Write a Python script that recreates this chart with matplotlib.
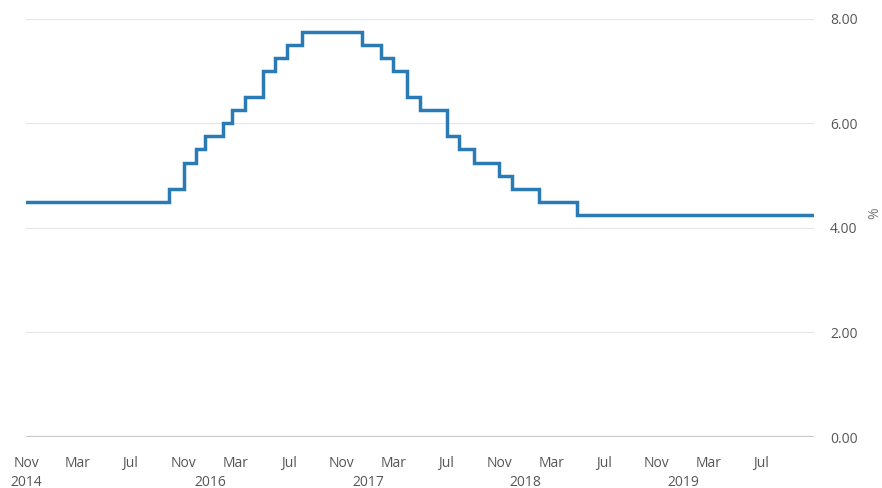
import matplotlib
matplotlib.use("Agg")
import matplotlib.pyplot as plt
import pandas as pd

# policy rate change dates and new rate (%)
change_dates = ["2014-11-01", "2015-09-28", "2015-11-02", "2015-11-30", "2015-12-21",
                "2016-02-01", "2016-02-22", "2016-03-22", "2016-05-02", "2016-05-31",
                "2016-06-27", "2016-08-01", "2016-12-19", "2017-01-30", "2017-02-27",
                "2017-04-01", "2017-05-01", "2017-07-03", "2017-07-31", "2017-09-04",
                "2017-10-31", "2017-11-30", "2018-02-01", "2018-05-01", "2019-10-31"]
rates = [4.50, 4.75, 5.25, 5.50, 5.75,
         6.00, 6.25, 6.50, 7.00, 7.25,
         7.50, 7.75, 7.50, 7.25, 7.00,
         6.50, 6.25, 5.75, 5.50, 5.25,
         5.00, 4.75, 4.50, 4.25, 4.25]

month_ticks = pd.date_range("2014-11-01", "2019-07-01", freq="4MS")
year_ticks = pd.to_datetime(["2014-11-01", "2016-01-01", "2017-01-01",
                             "2018-01-01", "2019-01-01"])
y_ticks = [0, 2, 4, 6, 8]

plt.rcParams["font.family"] = ["Open Sans", "DejaVu Sans"]

fig = plt.figure(figsize=(8.82, 4.88), dpi=100)
ax = fig.add_axes([0.0295, 0.1045, 0.8935, 0.857])

x = pd.to_datetime(change_dates)
ax.step(x, rates, where="post", color="#2a7ab6", lw=2.5, solid_joinstyle="miter")

ax.set_xlim(pd.Timestamp("2014-11-01"), pd.Timestamp("2019-10-31"))
ax.set_ylim(0, 8)

# y axis on the right
ax.yaxis.tick_right()
ax.set_yticks(y_ticks)
ax.set_yticklabels(["%.2f" % v for v in y_ticks])
ax.tick_params(axis="y", length=0, pad=11.5, labelcolor="#555555", labelsize=10)
ax.grid(axis="y", color="#e6e6e6", lw=0.8)
ax.axhline(0, color="#c8c8c8", lw=1.6, zorder=1)
fig.text(875 / 882, 1 - 213 / 488, "%", rotation=90, ha="center", va="center",
         color="#777777", fontsize=10)

# x axis: month names, years on a second row
ax.set_xticks(month_ticks)
ax.set_xticklabels([d.strftime("%b") for d in month_ticks])
ax.tick_params(axis="x", length=0, pad=13.5, labelcolor="#555555", labelsize=10)

yax = ax.secondary_xaxis("bottom")
yax.set_xticks(year_ticks)
yax.set_xticklabels([d.strftime("%Y") for d in year_ticks])
yax.tick_params(axis="x", length=0, pad=27, labelcolor="#555555", labelsize=10)
yax.spines["bottom"].set_visible(False)

for s in ax.spines.values():
    s.set_visible(False)

fig.savefig("out.png", dpi=100, facecolor="white")
